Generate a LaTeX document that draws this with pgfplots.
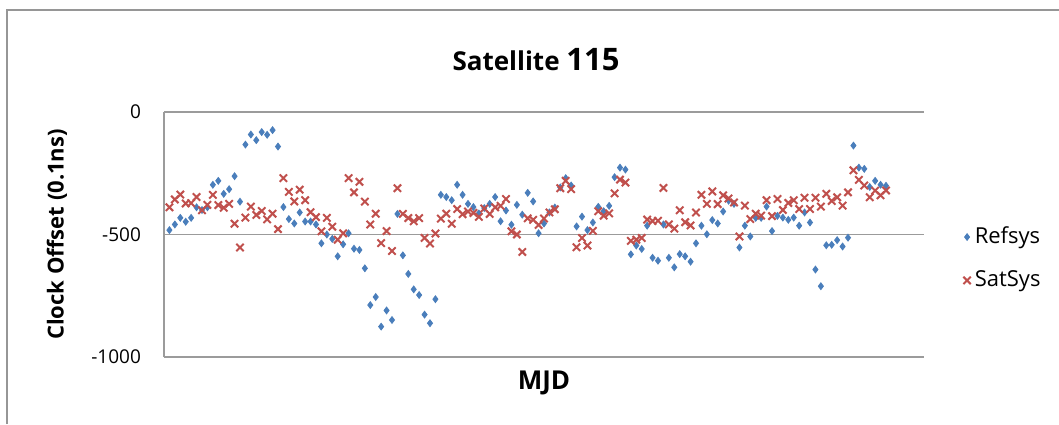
\documentclass[border=0pt]{standalone}
\usepackage{fontspec}
\setmainfont{Open Sans}
\usepackage{pgfplots}
\usepackage{pgfplotstable}
\pgfplotsset{compat=1.18}
\definecolor{refblue}{RGB}{74,126,187}
\definecolor{satred}{RGB}{192,80,77}
\definecolor{gridgray}{RGB}{155,155,155}
\definecolor{framegray}{RGB}{150,150,150}

% sample index, offset (0.1 ns)
\pgfplotstableread{
i y
1 -482
2 -459
3 -432
4 -448
5 -432
6 -389
7 -400
8 -389
9 -297
10 -281
11 -334
12 -315
13 -262
14 -366
15 -133
16 -92
17 -115
18 -82
19 -93
20 -74
21 -141
22 -388
23 -437
24 -455
25 -410
26 -447
27 -447
28 -459
29 -536
30 -500
31 -518
32 -589
33 -540
34 -495
35 -558
36 -563
37 -638
38 -788
39 -755
40 -876
41 -810
42 -849
43 -416
44 -585
45 -661
46 -724
47 -747
48 -827
49 -862
50 -764
51 -338
52 -347
53 -360
54 -297
55 -338
56 -375
57 -388
58 -414
59 -392
60 -375
61 -347
62 -446
63 -402
64 -460
65 -379
66 -419
67 -330
68 -365
69 -495
70 -455
71 -410
72 -390
73 -308
74 -270
75 -300
76 -467
77 -427
78 -482
79 -451
80 -387
81 -405
82 -383
83 -266
84 -227
85 -235
86 -581
87 -545
88 -559
89 -464
90 -595
91 -607
92 -459
93 -595
94 -634
95 -580
96 -589
97 -611
98 -536
99 -464
100 -499
101 -441
102 -455
103 -406
104 -362
105 -375
106 -553
107 -464
108 -508
109 -432
110 -432
111 -386
112 -486
113 -424
114 -431
115 -440
116 -431
117 -464
118 -410
119 -451
120 -643
121 -711
122 -544
123 -542
124 -523
125 -549
126 -513
127 -137
128 -227
129 -232
130 -306
131 -281
132 -297
133 -301
}\refsys

\pgfplotstableread{
i y
1 -389
2 -357
3 -337
4 -373
5 -372
6 -347
7 -401
8 -379
9 -338
10 -380
11 -391
12 -375
13 -456
14 -553
15 -431
16 -386
17 -420
18 -404
19 -438
20 -415
21 -478
22 -270
23 -326
24 -365
25 -317
26 -360
27 -409
28 -429
29 -487
30 -432
31 -468
32 -521
33 -495
34 -270
35 -328
36 -285
37 -366
38 -459
39 -415
40 -535
41 -486
42 -567
43 -311
44 -416
45 -433
46 -446
47 -433
48 -514
49 -537
50 -496
51 -435
52 -415
53 -456
54 -396
55 -417
56 -406
57 -412
58 -428
59 -394
60 -416
61 -389
62 -383
63 -355
64 -487
65 -500
66 -571
67 -434
68 -440
69 -461
70 -435
71 -410
72 -397
73 -311
74 -281
75 -315
76 -552
77 -514
78 -545
79 -485
80 -405
81 -423
82 -414
83 -332
84 -276
85 -288
86 -526
87 -521
88 -514
89 -439
90 -445
91 -444
92 -310
93 -459
94 -476
95 -401
96 -450
97 -463
98 -410
99 -338
100 -375
101 -324
102 -376
103 -340
104 -353
105 -369
106 -508
107 -382
108 -437
109 -415
110 -423
111 -360
112 -425
113 -355
114 -400
115 -371
116 -360
117 -396
118 -350
119 -396
120 -350
121 -386
122 -334
123 -363
124 -348
125 -382
126 -328
127 -238
128 -277
129 -300
130 -348
131 -321
132 -340
133 -320
}\satsys

\begin{document}
\begin{tikzpicture}
  \path[use as bounding box] (0pt,0pt) rectangle (529.5pt,212pt);
  \draw[framegray, line width=1pt] (3.5pt,0pt) -- (3.5pt,207pt) -- (529.5pt,207pt);
  \begin{axis}[
    at={(82pt,33.5pt)}, anchor=south west,
    scale only axis, width=380pt, height=122.5pt,
    xmin=0, xmax=140, ymin=-1000, ymax=0,
    axis line style={draw=none},
    xtick=\empty,
    extra x ticks={0}, extra x tick labels={},
    extra x tick style={grid=major},
    ytick={-1000,-500,0}, yticklabels={-1000,-500,0},
    ymajorgrids,
    major grid style={gridgray, line width=0.9pt},
    major tick length=0pt,
    yticklabel style={font=\fontsize{9.5pt}{11pt}\selectfont, anchor=east, xshift=-8pt},
    title={\textbf{Satellite {\fontsize{15.5pt}{17pt}\selectfont 115}}},
    title style={font=\fontsize{13pt}{15pt}\selectfont, at={(axis description cs:0.5,1)}, anchor=center, yshift=20pt, xshift=-4pt},
    xlabel={\textbf{MJD}},
    xlabel style={font=\fontsize{13pt}{15pt}\selectfont, at={(axis description cs:0.5,-0.106)}, anchor=center},
    ylabel={\textbf{Clock Offset (0.1ns)}},
    ylabel style={font=\fontsize{11pt}{13pt}\selectfont, at={(axis description cs:-0.1408,0.5)}, anchor=center},
    legend style={at={(axis description cs:1,0.402)}, anchor=west, xshift=19.5pt,
      draw=none, fill=none, inner sep=0pt, row sep=8pt,
      font=\fontsize{11pt}{13pt}\selectfont},
    legend cell align=left,
    legend image code/.code={\draw[mark repeat=2,mark phase=2,#1] plot coordinates {(0cm,0cm) (0.15cm,0cm) (0.55cm,0cm)};},
  ]
    \addplot[only marks, mark=diamond*, mark size=1.7pt, refblue] table[x=i, y=y] {\refsys};
    \addlegendentry{Refsys}
    \addplot[only marks, mark=x, mark size=2.6pt, satred, line width=1pt] table[x=i, y=y] {\satsys};
    \addlegendentry{SatSys}
  \end{axis}
\end{tikzpicture}
\end{document}
